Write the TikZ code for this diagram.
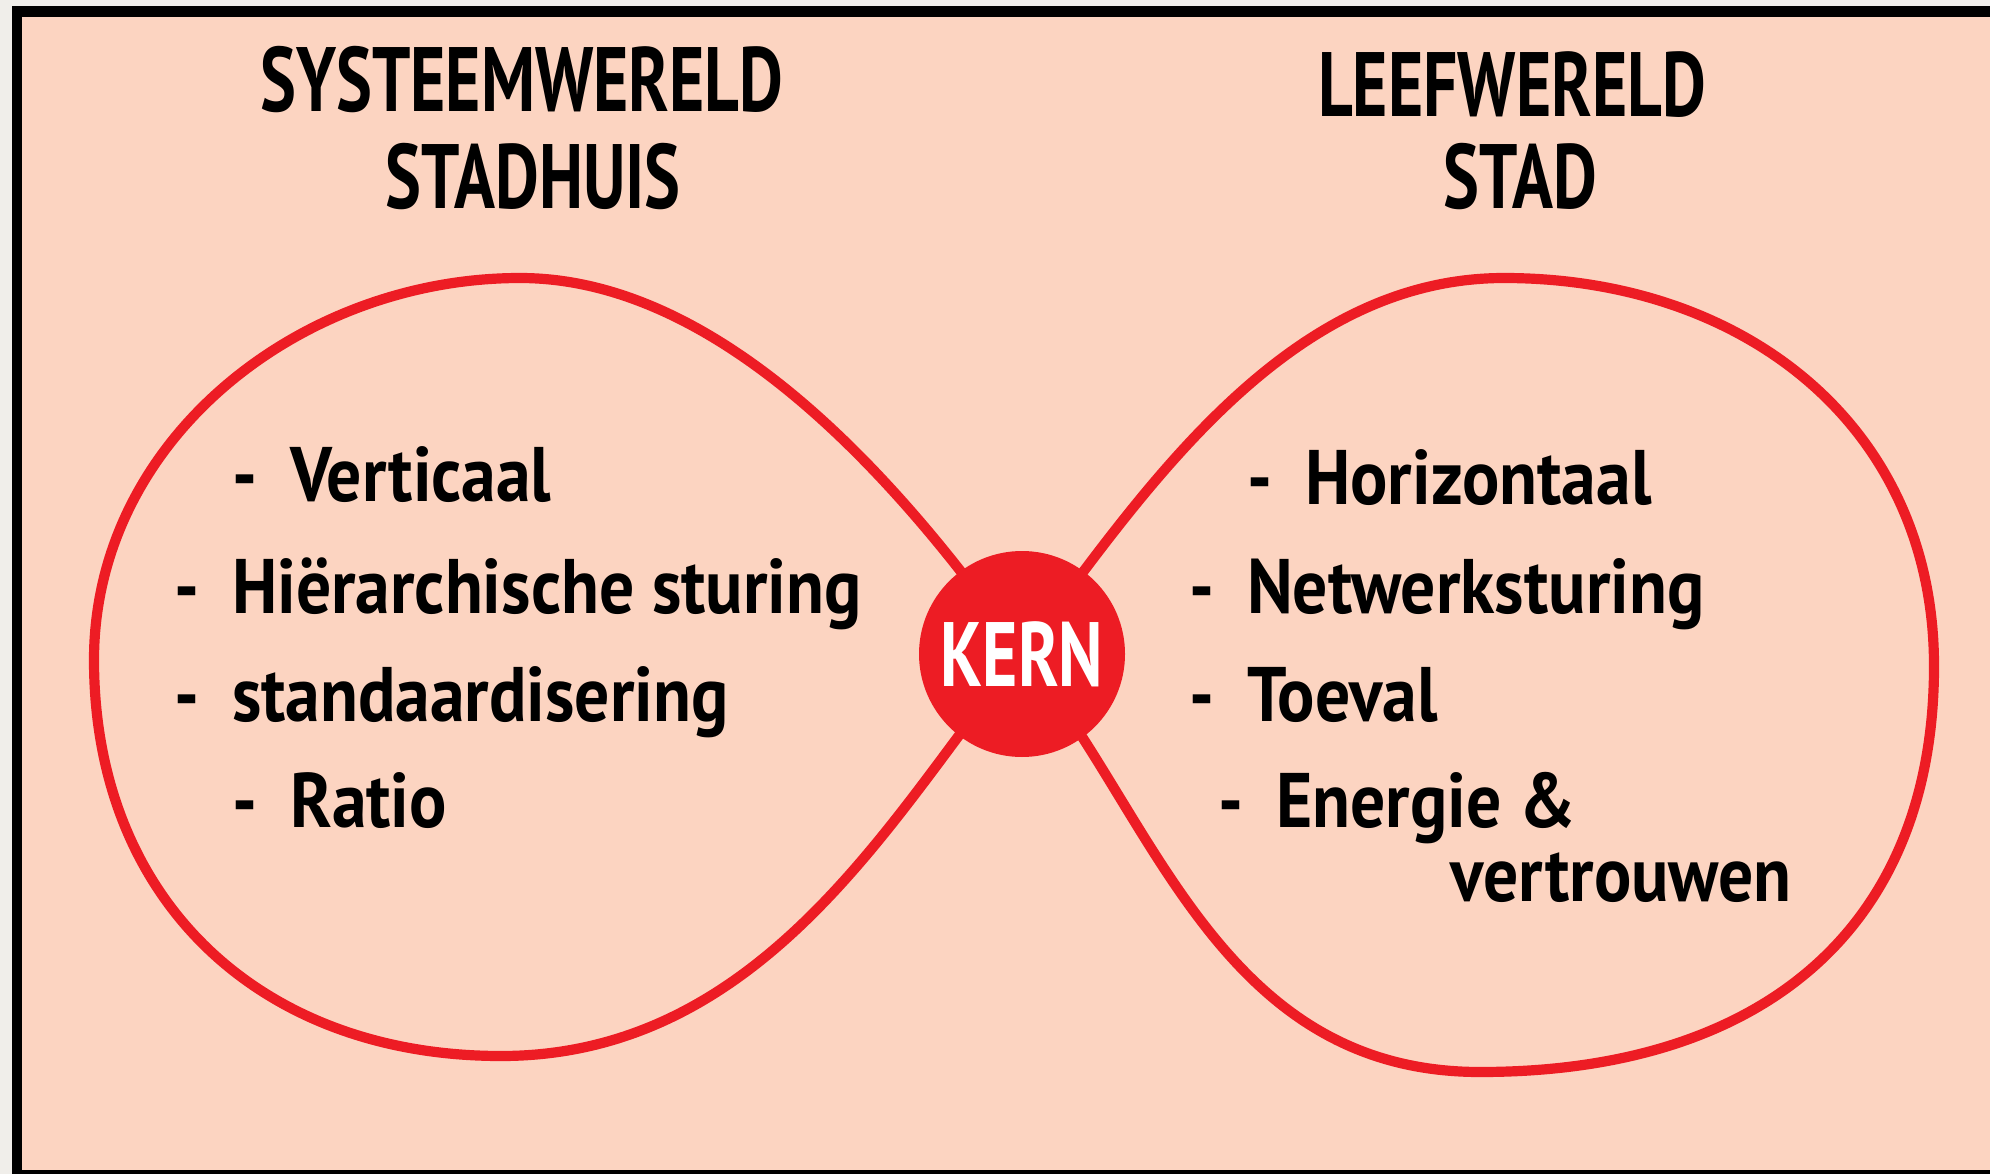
\documentclass[tikz,border=0pt]{standalone}
\usepackage{fontspec}
\usepackage{tikz}
\newfontfamily\titlefont{PT Sans}[FakeStretch=0.74]
\newfontfamily\itemfont{PT Sans}[FakeStretch=0.9]
\definecolor{kernred}{RGB}{237,28,36}
\definecolor{peach}{RGB}{252,212,193}
\definecolor{paper}{RGB}{240,238,234}

\begin{document}
\begin{tikzpicture}[x=0.1mm,y=-0.1mm,
  title/.style={font=\titlefont\bfseries\fontsize{26}{30}\selectfont,anchor=base,inner sep=0pt},
  item/.style={font=\itemfont\bfseries\fontsize{22}{26}\selectfont,anchor=base west,inner sep=0pt},
  loop/.style={draw=kernred,line width=2.9pt}]
\useasboundingbox (0,0) rectangle (1990,1174);
\fill[paper] (0,0) rectangle (1990,1174);
\fill[black] (12,6) rectangle (1990,1174);
\fill[peach] (22,17) rectangle (1990,1170);
% titels
\node[title] (systeem) at (522,112) {SYSTEEMWERELD};
\node[title] (stadhuis) at (533,209) {STADHUIS};
\node[title] (leef) at (1512,117) {LEEFWERELD};
\node[title] (stad) at (1520,209) {STAD};
% lussen
\coordinate (mid) at (1022,654);
\draw[loop] (mid) .. controls (900,480) and (720,278) .. (520,278)
   .. controls (300,278) and (94,440) .. (94,660)
   .. controls (94,900) and (260,1056) .. (501,1056)
   .. controls (770,1056) and (900,800) .. (mid);
\draw[loop] (mid) .. controls (1152,806) and (1215,1072) .. (1480,1072)
   .. controls (1765,1072) and (1934,926) .. (1934,666)
   .. controls (1934,426) and (1744,278) .. (1504,278)
   .. controls (1284,278) and (1142,494) .. (mid);
\node[circle,fill=kernred,minimum size=20.6mm,inner sep=0pt,text=white,
   font=\titlefont\bfseries\fontsize{26}{30}\selectfont] (kern) at (mid) {KERN};
% lijstjes
\foreach \x/\y/\1 in %
{232/501/Verticaal,174/613/Hiërarchische sturing,174/721/standaardisering,232/827/Ratio} {
   \node[item] (links\y) at (\x,\y) {-\hspace{0.42em}\1};
}
\foreach \x/\y/\1 in %
{1247/504/Horizontaal,1189/613/Netwerksturing,1189/721/Toeval,1218/827/Energie \&} {
   \node[item] (rechts\y) at (\x,\y) {-\hspace{0.42em}\1};
}
\node[item] (vertrouwen) at (1450,901) {vertrouwen};
\end{tikzpicture}
\end{document}
